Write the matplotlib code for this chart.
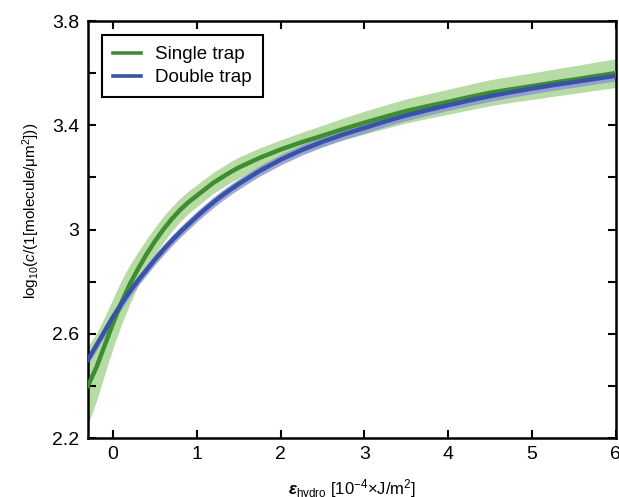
import matplotlib
matplotlib.use("Agg")
import numpy as np
import matplotlib.pyplot as plt
from matplotlib.ticker import FixedLocator, MultipleLocator, FuncFormatter

# values
eps_hydro = [-0.3, -0.2, -0.1, 0.0, 0.1, 0.2, 0.3, 0.4, 0.5, 0.6, 0.7, 0.8, 0.9,
             1.0, 1.1, 1.2, 1.3, 1.4, 1.5, 1.75, 2.0, 2.25, 2.5, 2.75, 3.0,
             3.25, 3.5, 3.75, 4.0, 4.25, 4.5, 4.75, 5.0, 5.25, 5.5, 5.75, 6.0]
single_mean = [2.40, 2.47, 2.555, 2.64, 2.72, 2.79, 2.85, 2.905, 2.955, 3.00,
               3.04, 3.075, 3.105, 3.13, 3.155, 3.18, 3.20, 3.22, 3.238, 3.275,
               3.307, 3.335, 3.36, 3.386, 3.41, 3.433, 3.455, 3.473, 3.49,
               3.508, 3.525, 3.538, 3.55, 3.563, 3.575, 3.588, 3.60]
single_err = [0.15, 0.13, 0.11, 0.095, 0.085, 0.075, 0.065, 0.058, 0.053, 0.05,
              0.047, 0.045, 0.043, 0.042, 0.041, 0.04, 0.04, 0.04, 0.04, 0.038,
              0.037, 0.038, 0.04, 0.042, 0.044, 0.045, 0.046, 0.047, 0.048,
              0.049, 0.05, 0.05, 0.051, 0.052, 0.053, 0.054, 0.055]
double_mean = [2.50, 2.555, 2.61, 2.665, 2.715, 2.762, 2.805, 2.845, 2.885,
               2.922, 2.957, 2.99, 3.02, 3.05, 3.078, 3.105, 3.13, 3.153, 3.175,
               3.225, 3.268, 3.305, 3.337, 3.365, 3.39, 3.415, 3.438, 3.458,
               3.477, 3.495, 3.512, 3.527, 3.541, 3.554, 3.566, 3.578, 3.59]
double_err = [0.02] * len(eps_hydro)

y_major = [2.2, 2.6, 3.0, 3.4, 3.8]
y_minor = [2.4, 2.8, 3.2, 3.6]

plt.rcParams['font.family'] = ['Liberation Sans', 'DejaVu Sans']
plt.rcParams['mathtext.fontset'] = 'custom'
plt.rcParams['mathtext.rm'] = 'Liberation Sans'
plt.rcParams['mathtext.it'] = 'Liberation Sans:italic'
plt.rcParams['mathtext.bf'] = 'Liberation Sans:bold'
plt.rcParams['mathtext.bfit'] = 'Liberation Sans:bold:italic'

fig = plt.figure(figsize=(6.19, 4.97), dpi=100)
ax = fig.add_axes([0.142, 0.1187, 0.853, 0.839])

x = np.array(eps_hydro)
s = np.array(single_mean)
se = np.array(single_err)
d = np.array(double_mean)
de = np.array(double_err)

ax.fill_between(x, s - se, s + se, color="#b6dba3", lw=0, zorder=1)
ax.fill_between(x, d - de, d + de, color="#8c98d2", alpha=0.85, lw=0, zorder=2)
ax.plot(x, s, color="#3f8d31", lw=3.2, label="Single trap", zorder=3)
ax.plot(x, d, color="#3853a5", lw=3.2, label="Double trap", zorder=4)

ax.set_xlim(-0.3, 6)
ax.set_ylim(2.2, 3.8)
ax.xaxis.set_major_locator(MultipleLocator(1))
ax.yaxis.set_major_locator(FixedLocator(y_major))
ax.yaxis.set_minor_locator(FixedLocator(y_minor))
ax.yaxis.set_major_formatter(FuncFormatter(lambda v, p: "%g" % round(v, 2)))
ax.tick_params(which="both", direction="in", top=True, right=True,
               width=1.5, length=6, labelsize=14, pad=6)
for sp in ax.spines.values():
    sp.set_linewidth(1.8)

ax.set_xlabel(r"$\mathbfit{ε}_{\mathrm{hydro}}$ [10$^{-4}$×J/m$^2$]", fontsize=12,
              labelpad=10)
ax.set_ylabel(r"log$_{10}$($\mathit{c}$/(1[molecule/μm$^2$]))", fontsize=11)
ax.yaxis.set_label_coords(-0.087, 0.544)

leg = ax.legend(loc="upper left", fontsize=13.5, fancybox=False, framealpha=1,
                edgecolor="black", handlelength=1.5, borderaxespad=0.75,
                borderpad=0.6, labelspacing=0.3, handletextpad=0.75)
leg.get_frame().set_linewidth(1.5)
for h in leg.get_lines():
    h.set_linewidth(2.6)

fig.savefig("out.png", dpi=100)
